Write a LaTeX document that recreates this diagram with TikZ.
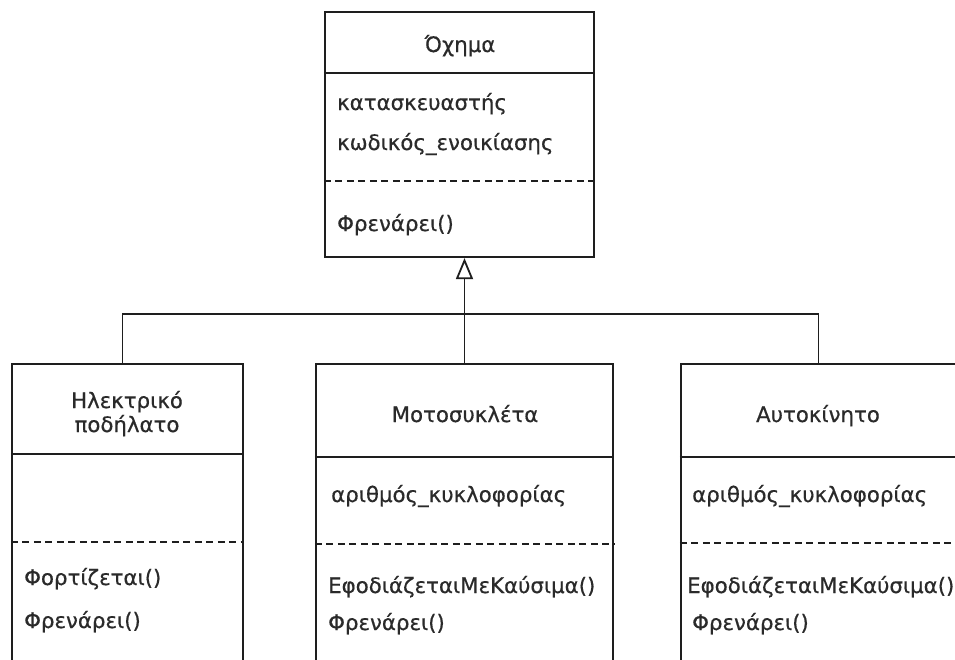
\documentclass[tikz,border=0pt]{standalone}
\usepackage{fontspec}
\setmainfont[FakeBold=0.5]{DejaVu Sans}
\usetikzlibrary{arrows.meta}
\definecolor{linec}{HTML}{1E1E1E}
\definecolor{textc}{HTML}{2A2A2A}
\begin{document}
\begin{tikzpicture}[x=1pt,y=-1pt,
  classbox/.style={draw=linec, line width=2.2pt, rectangle, inner sep=0pt},
  divider/.style={draw=linec, line width=2.2pt},
  dashdiv/.style={draw=linec, line width=1.9pt, dash pattern=on 7pt off 4.5pt},
  conn/.style={draw=linec, line width=1.9pt},
  lbl/.style={text=textc, font=\fontsize{21.3}{24}\selectfont, inner sep=0pt, anchor=base west},
  ttl/.style={text=textc, font=\fontsize{21.3}{24}\selectfont, inner sep=0pt, anchor=base},
]
\useasboundingbox (0,0) rectangle (955,659);
\fill[white] (0,0) rectangle (955,659);
\begin{scope}
\clip (0,0) rectangle (955,659);
% class boxes
\node[classbox, minimum width=269pt, minimum height=245pt] (veh) at (459.5,134.5) {};
\node[classbox, minimum width=231pt, minimum height=340pt] (elec) at (127.5,534) {};
\node[classbox, minimum width=297pt, minimum height=340pt] (moto) at (464.5,534) {};
\node[classbox, minimum width=275pt, minimum height=340pt] (car) at (818.5,534) {};
% dividers
\draw[divider] ([yshift=-62pt]veh.north west) -- ([yshift=-62pt]veh.north east);
\draw[dashdiv] ([yshift=-170pt]veh.north west) -- ([yshift=-170pt]veh.north east);
\draw[divider] ([yshift=-91pt]elec.north west) -- ([yshift=-91pt]elec.north east);
\draw[dashdiv] ([yshift=-179pt]elec.north west) -- ([yshift=-179pt]elec.north east);
\draw[divider] ([yshift=-94pt]moto.north west) -- ([yshift=-94pt]moto.north east);
\draw[dashdiv] ([yshift=-181pt]moto.north west) -- ([yshift=-181pt]moto.north east);
\draw[divider] ([yshift=-94pt]car.north west) -- ([yshift=-94pt]car.north east);
\draw[dashdiv] ([yshift=-180pt]car.north west) -- ([yshift=-180pt]car.north east);
% texts: Όχημα
\node[ttl] (vehT) at (460,52) {Όχημα};
\node[lbl] (vehA1) at (337,110) {κατασκευαστής};
\node[lbl] (vehA2) at (337,150) {κωδικός\_ενοικίασης};
\node[lbl] (vehM1) at (337,231) {Φρενάρει()};
% Ηλεκτρικό ποδήλατο
\node[ttl] (elecT1) at (127,408) {Ηλεκτρικό};
\node[ttl] (elecT2) at (127,432) {ποδήλατο};
\node[lbl] (elecM1) at (24,585) {Φορτίζεται()};
\node[lbl] (elecM2) at (24,628) {Φρενάρει()};
% Μοτοσυκλέτα
\node[ttl] (motoT) at (465,422) {Μοτοσυκλέτα};
\node[lbl] (motoA1) at (331,502) {αριθμός\_κυκλοφορίας};
\node[lbl] (motoM1) at (328,593) {ΕφοδιάζεταιΜεΚαύσιμα()};
\node[lbl] (motoM2) at (328,630) {Φρενάρει()};
% Αυτοκίνητο
\node[ttl] (carT) at (818,422) {Αυτοκίνητο};
\node[lbl] (carA1) at (692,502) {αριθμός\_κυκλοφορίας};
\node[lbl] (carM1) at (687,593) {ΕφοδιάζεταιΜεΚαύσιμα()};
\node[lbl] (carM2) at (692,630) {Φρενάρει()};
% generalization
\coordinate (join) at (464.5,314);
\draw[conn, -{Triangle[open, length=21pt, width=17pt, line width=1.8pt]}] (moto.north) -- (moto.north |- veh.south);
\draw[conn] ([xshift=-5pt]elec.north) |- (join) -| (car.north);
\end{scope}
\end{tikzpicture}
\end{document}
